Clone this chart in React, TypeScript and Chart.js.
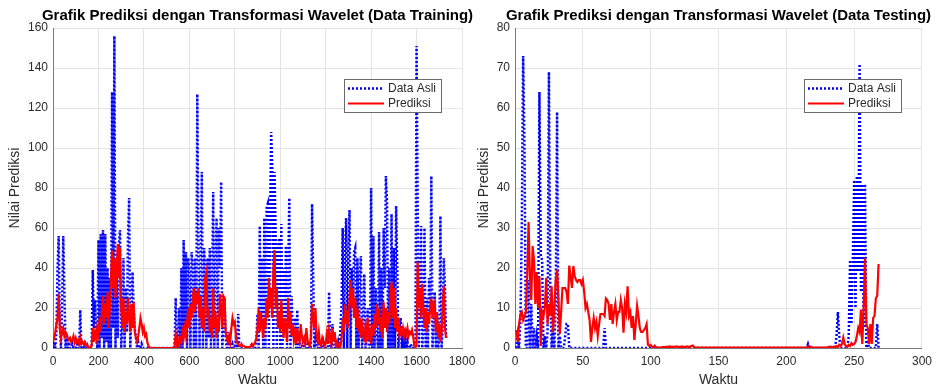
import React, { useEffect, useRef } from "react";
import { Chart, registerables } from "chart.js";

Chart.register(...registerables);

const FONT = '"Liberation Sans", Arial, Helvetica, sans-serif';

// Training set: one reading every 5 time steps, starting at Waktu = 0
const trainStep = 5;
const trainActual = [
  0, 3, 0, 8, 40, 56, 12, 0, 20, 56,
  30, 0, 6, 0, 3, 0, 0, 2, 0, 0,
  0, 3, 0, 0, 19, 0, 0, 0, 2, 0,
  0, 0, 0, 0, 0, 39, 10, 24, 5, 0,
  54, 0, 57, 5, 59, 0, 57, 3, 40, 0,
  35, 0, 128, 10, 156, 0, 45, 5, 52, 59,
  0, 10, 45, 0, 30, 8, 56, 75, 0, 15,
  38, 20, 10, 5, 0, 3, 0, 0, 2, 0,
  0, 0, 0, 0, 0, 0, 0, 0, 0, 0,
  0, 0, 0, 0, 0, 0, 0, 0, 0, 0,
  0, 0, 0, 0, 0, 0, 0, 0, 25, 5,
  0, 20, 0, 40, 0, 54, 5, 48, 0, 45,
  38, 0, 48, 40, 0, 45, 0, 127, 50, 0,
  45, 88, 0, 50, 40, 0, 45, 5, 50, 0,
  30, 78, 0, 45, 65, 0, 60, 40, 83, 0,
  10, 25, 5, 0, 8, 0, 3, 0, 2, 0,
  0, 5, 0, 17, 0, 0, 0, 0, 0, 0,
  0, 0, 0, 0, 0, 2, 0, 0, 0, 5,
  17, 0, 61, 10, 45, 0, 65, 0, 70, 72,
  0, 60, 108, 90, 0, 88, 55, 0, 50, 55,
  0, 62, 0, 40, 15, 51, 0, 40, 75, 0,
  26, 10, 5, 15, 0, 19, 0, 5, 0, 0,
  3, 0, 0, 0, 2, 0, 0, 0, 72, 37,
  0, 5, 0, 0, 2, 0, 0, 0, 3, 0,
  0, 0, 0, 28, 0, 0, 12, 0, 0, 0,
  0, 3, 0, 10, 21, 60, 0, 45, 65, 0,
  50, 69, 0, 40, 20, 48, 50, 0, 45, 0,
  35, 46, 0, 10, 37, 0, 5, 20, 0, 0,
  80, 0, 56, 0, 30, 10, 0, 58, 0, 40,
  0, 60, 30, 86, 73, 0, 40, 0, 67, 0,
  50, 0, 71, 40, 0, 10, 15, 0, 10, 0,
  5, 0, 3, 0, 0, 2, 0, 0, 0, 0,
  151, 72, 0, 20, 61, 0, 10, 60, 0, 25,
  0, 35, 20, 86, 0, 10, 28, 0, 15, 0,
  5, 66, 0, 10, 45, 30, 5,
];

const trainPredicted = [
  3, 5, 8, 12, 15, 27, 10, 5, 8, 10,
  6, 8, 7, 5, 4, 5, 3, 4, 6, 3,
  5, 3, 4, 2, 5, 2, 3, 2, 3, 1,
  2, 0.5, 0.2, 0.2, 1, 10, 3, 8, 5, 10,
  7, 15, 8, 18, 26, 12, 22, 15, 28, 10,
  20, 35, 49, 30, 45, 25, 40, 52, 35, 50,
  20, 10, 25, 8, 18, 12, 25, 15, 8, 22,
  10, 23, 8, 5, 3, 6, 10, 15, 12, 8,
  10, 6, 7, 3, 1, 0.2, 0, 0, 0, 0,
  0, 0, 0, 0, 0, 0, 0, 0, 0, 0,
  0, 0, 0, 0, 0, 0, 0, 1, 7, 2,
  4, 1, 5, 3, 8, 5, 10, 6, 12, 20,
  10, 22, 15, 25, 30, 18, 28, 22, 30, 15,
  26, 10, 20, 8, 35, 38, 15, 20, 8, 12,
  5, 30, 10, 18, 5, 15, 8, 27, 20, 10,
  26, 25, 8, 5, 3, 6, 3, 10, 15, 12,
  13, 6, 3, 2, 1, 1, 2, 1, 1, 0.5,
  0.5, 0.5, 0.5, 0.5, 1, 2, 1, 2, 3, 5,
  10, 20, 8, 18, 12, 5, 15, 10, 25, 15,
  35, 20, 30, 15, 40, 49, 20, 30, 10, 18,
  8, 24, 12, 5, 15, 10, 3, 25, 10, 18,
  6, 12, 4, 8, 2, 10, 5, 3, 12, 6,
  3, 5, 2, 10, 4, 2, 1, 5, 22, 15,
  10, 20, 6, 3, 8, 2, 1, 5, 3, 1,
  2, 7, 2, 9, 6, 2, 10, 3, 8, 1,
  3, 1, 2, 0.5, 5, 15, 8, 22, 12, 16,
  10, 25, 34, 20, 30, 15, 25, 10, 20, 8,
  15, 5, 12, 8, 3, 10, 6, 15, 4, 8,
  2, 12, 6, 17, 10, 22, 12, 20, 8, 15,
  5, 23, 10, 20, 8, 18, 12, 25, 33, 15,
  30, 10, 20, 8, 12, 6, 9, 7, 10, 6,
  9, 7, 10, 6, 8, 7, 9, 6, 1, 0.5,
  1, 43, 20, 30, 15, 32, 20, 10, 20, 8,
  18, 12, 20, 25, 15, 22, 23, 8, 18, 5,
  12, 3, 8, 20, 31, 10, 5,
];

// Testing set: one reading per time step, starting at Waktu = 1
const testActual = [
  0, 3, 0, 7, 30, 73, 50, 0, 0, 17,
  0, 11, 0, 5, 0, 3, 0, 64, 23, 22,
  0, 3, 0, 4, 69, 15, 0, 5, 0, 11,
  59, 0, 3, 0, 0, 0, 3, 6, 6, 0,
  0, 0, 0, 0, 0, 0, 0, 0, 0, 0,
  0, 0, 0, 0, 0, 0, 0, 0, 0, 0,
  0, 0, 0, 0, 0, 5, 0, 0, 0, 0,
  0, 0, 0, 0, 0, 0, 0, 0, 0, 0,
  0, 0, 0, 0, 0, 0, 0, 0, 0, 0,
  0, 0, 0, 0, 0, 0, 0, 0, 0, 0,
  0, 0, 0, 0, 0, 0, 0, 0, 0, 0,
  0, 0, 0, 0, 0, 0, 0, 0, 0, 0,
  0, 0, 0, 0, 0, 0, 0, 0, 0, 0,
  0, 0, 0, 0, 0, 0, 0, 0, 0, 0,
  0, 0, 0, 0, 0, 0, 0, 0, 0, 0,
  0, 0, 0, 0, 0, 0, 0, 0, 0, 0,
  0, 0, 0, 0, 0, 0, 0, 0, 0, 0,
  0, 0, 0, 0, 0, 0, 0, 0, 0, 0,
  0, 0, 0, 0, 0, 0, 0, 0, 0, 0,
  0, 0, 0, 0, 0, 0, 0, 0, 0, 0,
  0, 0, 0, 0, 0, 0, 0, 0, 0, 0,
  0, 0, 0, 0, 0, 1, 0, 0, 0, 0,
  0, 0, 0, 0, 0, 0, 0, 0, 0, 0,
  0, 0, 0, 0, 0, 0, 3, 9, 3, 0,
  0, 0, 0, 0, 0, 3, 22, 6, 21, 42,
  10, 43, 19, 71, 14, 41, 5, 41, 0, 2,
  0, 0, 0, 0, 0, 0, 6, 0,
];

const testPredicted = [
  4.5, 1.5, 6, 8.5, 9, 7, 8, 9, 18, 31.5,
  18, 12, 25.5, 22, 11, 19, 10, 18, 0.5, 9,
  8, 10, 17.5, 6, 11, 8, 15.4, 4, 10, 17,
  19.6, 12, 3.5, 9, 15, 15, 15, 14, 11, 20.6,
  18, 15, 20.5, 18, 17, 16.5, 17, 17, 16, 17,
  14, 10, 11, 9, 7, 1.5, 5, 7.5, 5, 6.5,
  3, 6, 8.5, 8.5, 8.5, 8, 12.4, 12, 11, 7,
  11, 6, 9, 11, 7, 9, 9, 12, 10, 3.8,
  11, 9, 15.4, 8, 9, 5, 8, 2, 6, 10.5,
  8, 5, 4, 4, 4.5, 5, 6, 0.8, 0.5, 0.8,
  0.3, 0.2, 0.6, 0.2, 0.1, 0.1, 0.1, 0.1, 0.2, 0.2,
  0.3, 0.3, 0.3, 0.4, 0.3, 0.3, 0.3, 0.3, 0.4, 0.3,
  0.3, 0.3, 0.4, 0.3, 0.3, 0.3, 0.4, 0.3, 0.3, 0.5,
  0.6, 0.2, 0.1, 0.1, 0.1, 0.1, 0.1, 0.1, 0.1, 0.1,
  0.1, 0.1, 0.1, 0.1, 0.1, 0.1, 0.1, 0.1, 0.1, 0.1,
  0.1, 0.1, 0.1, 0.1, 0.1, 0.1, 0.1, 0.1, 0.1, 0.1,
  0.1, 0.1, 0.1, 0.1, 0.1, 0.1, 0.1, 0.1, 0.1, 0.1,
  0.1, 0.1, 0.1, 0.1, 0.1, 0.1, 0.1, 0.1, 0.1, 0.1,
  0.1, 0.1, 0.1, 0.1, 0.1, 0.1, 0.1, 0.1, 0.1, 0.1,
  0.1, 0.1, 0.1, 0.1, 0.1, 0.1, 0.1, 0.1, 0.1, 0.1,
  0.1, 0.1, 0.1, 0.1, 0.1, 0.1, 0.1, 0.1, 0.1, 0.1,
  0.1, 0.1, 0.1, 0.1, 0.1, 0.3, 0.4, 0.3, 0.1, 0.1,
  0.1, 0.1, 0.1, 0.1, 0.1, 0.1, 0.1, 0.1, 0.1, 0.1,
  0.3, 0.3, 0.3, 0.3, 0.3, 0.3, 0.5, 0.2, 0.8, 0.5,
  1, 2.6, 1, 0.5, 0.3, 0.8, 0.5, 1.2, 0.8, 1,
  1.5, 3, 5, 4, 9.6, 1, 10, 22.5, 6, 5,
  1, 6, 1, 7.5, 8, 12.5, 13, 21,
];

const seriesLabels = ["Data Asli", "Prediksi"];
const trainTitle = "Grafik Prediksi dengan Transformasi Wavelet (Data Training)";
const testTitle = "Grafik Prediksi dengan Transformasi Wavelet (Data Testing)";
const xLabel = "Waktu";
const yLabel = "Nilai Prediksi";

// axis ranges: [min, max, step]
const trainXRange = [0, 1800, 200];
const trainYRange = [0, 160, 20];
const testXRange = [0, 300, 50];
const testYRange = [0, 80, 10];

const TEXT = "#2b2b2b";

// Bold title centred over the plot area, allowed to run wider than it
const panelTitle = {
  id: "panelTitle",
  afterDraw(chart: any, _args: any, opts: any) {
    const { ctx, chartArea } = chart;
    ctx.save();
    ctx.font = `bold 15px ${FONT}`;
    ctx.fillStyle = "#000000";
    ctx.textAlign = "center";
    ctx.textBaseline = "middle";
    ctx.fillText(opts.text, (chartArea.left + chartArea.right) / 2, 16);
    ctx.restore();
  },
};

// MATLAB-style legend box placed inside the upper right of the plot area
const boxLegend = {
  id: "boxLegend",
  afterDatasetsDraw(chart: any) {
    const { ctx, chartArea } = chart;
    const ds = chart.data.datasets;
    ctx.save();
    ctx.font = `12px ${FONT}`;
    const textW = Math.max(...ds.map((d: any) => ctx.measureText(d.label).width));
    const sample = 36;
    const w = Math.round(4 + sample + 4 + textW + 5);
    const h = 33;
    const right = Math.round(chartArea.right - 21);
    const left = right - w;
    const top = Math.round(chartArea.top + 51);
    ctx.fillStyle = "#ffffff";
    ctx.fillRect(left, top, w, h);
    ctx.strokeStyle = "#6a6a6a";
    ctx.lineWidth = 1;
    ctx.strokeRect(left + 0.5, top + 0.5, w, h);
    ds.forEach((d: any, i: number) => {
      const y = top + 9.5 + i * 15;
      ctx.beginPath();
      ctx.setLineDash(d.borderDash || []);
      ctx.strokeStyle = d.borderColor;
      ctx.lineWidth = d.borderWidth;
      ctx.moveTo(left + 4, y);
      ctx.lineTo(left + 4 + sample, y);
      ctx.stroke();
      ctx.setLineDash([]);
      ctx.fillStyle = TEXT;
      ctx.textBaseline = "middle";
      ctx.textAlign = "left";
      ctx.fillText(d.label, left + 4 + sample + 4, y);
    });
    ctx.restore();
  },
};

const plainNumber = (v: any) => String(v);

function buildConfig(
  title: string,
  waktu: number[],
  actual: number[],
  predicted: number[],
  xr: number[],
  yr: number[],
  yAxisWidth: number,
  padLeft: number,
  padRight: number
) {
  const actualPts = actual.map((v, i) => ({ x: waktu[i], y: v }));
  const predPts = predicted.map((v, i) => ({ x: waktu[i], y: v }));
  const tickFont = { family: FONT, size: 12 };
  const labelFont = { family: FONT, size: 14 };
  return {
    type: "line",
    data: {
      datasets: [
        {
          label: seriesLabels[0],
          data: actualPts,
          borderColor: "#0000ff",
          borderWidth: 2.5,
          borderDash: [2, 2],
          pointRadius: 0,
          fill: false,
          order: 2,
        },
        {
          label: seriesLabels[1],
          data: predPts,
          borderColor: "#ff0000",
          borderWidth: 2.2,
          pointRadius: 0,
          fill: false,
          order: 1,
        },
      ],
    },
    options: {
      responsive: false,
      animation: false,
      devicePixelRatio: 1,
      events: [],
      layout: {
        autoPadding: false,
        padding: { left: padLeft, right: padRight, top: 28, bottom: 0 },
      },
      elements: { line: { tension: 0 }, point: { radius: 0 } },
      plugins: {
        legend: { display: false },
        tooltip: { enabled: false },
        title: { display: false },
        panelTitle: { text: title },
      },
      scales: {
        x: {
          type: "linear",
          min: xr[0],
          max: xr[1],
          ticks: {
            stepSize: xr[2],
            color: TEXT,
            font: tickFont,
            padding: 6,
            maxRotation: 0,
            autoSkip: false,
            callback: plainNumber,
          },
          grid: { color: "#e4e4e4", drawTicks: false },
          border: { display: true, color: "#7a7a7a" },
          title: {
            display: true,
            text: xLabel,
            color: TEXT,
            font: labelFont,
            padding: { top: 0, bottom: 0.5 },
          },
          afterFit: (s: any) => {
            s.height = 41;
          },
        },
        y: {
          type: "linear",
          min: yr[0],
          max: yr[1],
          ticks: {
            stepSize: yr[2],
            color: TEXT,
            font: tickFont,
            padding: 5,
            callback: plainNumber,
          },
          grid: { color: "#e4e4e4", drawTicks: false },
          border: { display: true, color: "#7a7a7a" },
          title: {
            display: true,
            text: yLabel,
            color: TEXT,
            font: labelFont,
            padding: { top: 7, bottom: 0 },
          },
          afterFit: (s: any) => {
            s.width = yAxisWidth;
          },
        },
      },
    },
    plugins: [boxLegend, panelTitle],
  };
}

function PanelChart(props: { make: () => any }) {
  const ref = useRef<HTMLCanvasElement | null>(null);
  useEffect(() => {
    if (!ref.current) return;
    const chart = new Chart(ref.current, props.make());
    return () => chart.destroy();
  }, []);
  return (
    <canvas
      ref={ref}
      width={938}
      height={389}
      style={{ position: "absolute", left: 0, top: 0, width: 938, height: 389 }}
    />
  );
}

export default function App() {
  const trainWaktu = trainActual.map((_, i) => i * trainStep);
  const testWaktu = testActual.map((_, i) => i + 1);
  return (
    <div
      style={{
        position: "absolute",
        left: 0,
        top: 0,
        width: 938,
        height: 389,
        background: "#ffffff",
        overflow: "hidden",
      }}
    >
      <PanelChart
        make={() =>
          buildConfig(trainTitle, trainWaktu, trainActual, trainPredicted, trainXRange, trainYRange, 53, 0, 476)
        }
      />
      <PanelChart
        make={() =>
          buildConfig(testTitle, testWaktu, testActual, testPredicted, testXRange, testYRange, 46, 469, 15)
        }
      />
    </div>
  );
}
